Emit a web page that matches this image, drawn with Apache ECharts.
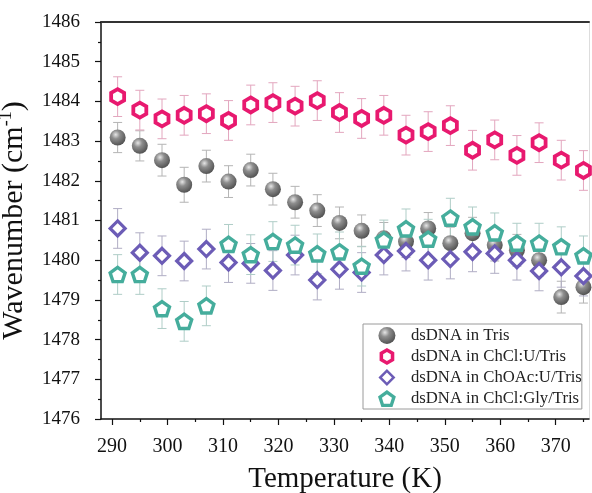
<!DOCTYPE html>
<html>
<head>
<meta charset="utf-8">
<script src="https://cdn.jsdelivr.net/npm/echarts@6/dist/echarts.min.js"></script>
<style>html,body{margin:0;padding:0;background:#fff}#c{width:592px;height:493px}</style>
</head>
<body>
<div id="c"></div>
<script>
const temps = [291,295,299,303,307,311,315,319,323,327,331,335,339,343,347,351,355,359,363,367,371,375];
const xMajorTicks = [290,300,310,320,330,340,350,360,370];
const xMinorTicks = [295,305,315,325,335,345,355,365,375];
const trisVals = [1483.09,1482.88,1482.52,1481.90,1482.37,1481.98,1482.27,1481.79,1481.46,1481.25,1480.94,1480.74,1480.55,1480.47,1480.80,1480.43,1480.68,1480.38,1480.25,1480.00,1479.07,1479.32];
const trisErr = [0.38,0.38,0.40,0.44,0.40,0.40,0.40,0.40,0.40,0.40,0.40,0.40,0.40,0.40,0.40,0.40,0.40,0.40,0.40,0.40,0.40,0.40];
const chclUVals = [1484.12,1483.78,1483.56,1483.65,1483.69,1483.52,1483.91,1483.97,1483.88,1484.02,1483.72,1483.57,1483.65,1483.15,1483.24,1483.39,1482.77,1483.03,1482.64,1482.96,1482.52,1482.26];
const chclUErr = [0.5,0.5,0.5,0.5,0.5,0.5,0.5,0.5,0.5,0.5,0.5,0.5,0.5,0.5,0.5,0.5,0.5,0.5,0.5,0.5,0.5,0.5];
const choacVals = [1480.80,1480.19,1480.11,1479.98,1480.28,1479.94,1479.92,1479.74,1480.13,1479.50,1479.77,1479.69,1480.13,1480.23,1480.00,1480.03,1480.21,1480.17,1480.00,1479.73,1479.82,1479.60];
const choacErr = [0.5,0.5,0.5,0.5,0.5,0.5,0.5,0.5,0.5,0.5,0.5,0.5,0.5,0.5,0.5,0.5,0.5,0.5,0.5,0.5,0.5,0.5];
const glyVals = [1479.64,1479.64,1478.78,1478.46,1478.85,1480.40,1480.14,1480.47,1480.38,1480.16,1480.21,1479.85,1480.51,1480.79,1480.53,1481.06,1480.84,1480.69,1480.43,1480.43,1480.34,1480.11];
const glyErr = [0.5,0.5,0.5,0.5,0.5,0.5,0.5,0.5,0.5,0.5,0.5,0.5,0.5,0.5,0.5,0.5,0.5,0.5,0.5,0.5,0.5,0.5];
const seriesNames = ['dsDNA in Tris','dsDNA in ChCl:U/Tris','dsDNA in ChOAc:U/Tris','dsDNA in ChCl:Gly/Tris'];

const FONT = 'Liberation Serif';
const PINK = '#e8196f', PURPLE = '#6c5cb6', TEAL = '#45ad9c';
const HEX = 'path://M0,-1L0.866,-0.5L0.866,0.5L0,1L-0.866,0.5L-0.866,-0.5Z';
const PENT = 'path://M0,-1L0.951,-0.309L0.588,0.809L-0.588,0.809L-0.951,-0.309Z';
const DIAM = 'path://M0,-1L1,0L0,1L-1,0Z';
const HEX_RING = 'path://M0,-1L0.866,-0.5L0.866,0.5L0,1L-0.866,0.5L-0.866,-0.5ZM0,-0.52L-0.45,-0.26L-0.45,0.26L0,0.52L0.45,0.26L0.45,-0.26Z';
const DIAM_RING = 'path://M0,-1L1,0L0,1L-1,0ZM0,-0.58L-0.58,0L0,0.58L0.58,0Z';
const PENT_RING = 'path://M0,-1L0.951,-0.309L0.588,0.809L-0.588,0.809L-0.951,-0.309ZM0,-0.56L-0.533,-0.173L-0.329,0.453L0.329,0.453L0.533,-0.173Z';

function pts(vals){ return temps.map((t,i)=>[t, vals[i]]); }
function errData(vals, errs){ return temps.map((t,i)=>[t, vals[i], errs[i]]); }
function errSeries(vals, errs, color, z){
  return {
    type:'custom', z:z, silent:true, data: errData(vals, errs),
    encode:{x:0, y:[1]},
    renderItem: function(params, api){
      const x = api.value(0), y = api.value(1), e = api.value(2);
      const top = api.coord([x, y + e]);
      const bot = api.coord([x, y - e]);
      const w = 4.5;
      const st = {stroke: color, lineWidth: 1};
      return {type:'group', children:[
        {type:'line', shape:{x1:top[0], y1:top[1], x2:bot[0], y2:bot[1]}, style:st},
        {type:'line', shape:{x1:top[0]-w, y1:top[1], x2:top[0]+w, y2:top[1]}, style:st},
        {type:'line', shape:{x1:bot[0]-w, y1:bot[1], x2:bot[0]+w, y2:bot[1]}, style:st}
      ]};
    }
  };
}

const chart = echarts.init(document.getElementById('c'), null, {renderer:'canvas'});
const sphere = new echarts.graphic.RadialGradient(0.38, 0.32, 0.75, [
  {offset:0, color:'#e6e6e6'}, {offset:0.35, color:'#8e8e8e'}, {offset:1, color:'#4a4a4a'}
]);
const axisLineStyle = {color:'#111', width:1.5};
chart.setOption({
  animation:false,
  backgroundColor:'#fff',
  textStyle:{fontFamily:FONT},
  grid:{left:101, right:3, top:22, bottom:74, outerBoundsMode:'none'},
  legend:{
    orient:'vertical', left:363, top:324,
    data: [
      {name:seriesNames[0]},
      {name:seriesNames[1], icon:HEX_RING, itemStyle:{color:PINK, borderWidth:0}},
      {name:seriesNames[2], icon:DIAM_RING, itemStyle:{color:PURPLE, borderWidth:0}},
      {name:seriesNames[3], icon:PENT_RING, itemStyle:{color:TEAL, borderWidth:0}}
    ],
    backgroundColor:'#fff', borderColor:'#9a9a9a', borderWidth:1,
    padding:[3,0,2,15], itemGap:4, itemWidth:38, itemHeight:17,
    textStyle:{fontFamily:FONT, fontSize:16.7, color:'#222'}
  },
  xAxis:[{
    type:'value', min:288, max:376, position:'bottom',
    name:'Temperature (K)', nameLocation:'middle', nameGap:46,
    nameTextStyle:{fontFamily:FONT, fontSize:29, color:'#111'},
    axisLine:{show:true, onZero:false, lineStyle:axisLineStyle},
    axisTick:{show:true, length:6, lineStyle:{color:'#111', width:1.2}, customValues:xMajorTicks},
    axisLabel:{fontFamily:FONT, fontSize:20, color:'#111', margin:18, customValues:xMajorTicks},
    splitLine:{show:false}
  },{
    type:'value', min:288, max:376, position:'bottom',
    axisLine:{show:false},
    axisTick:{show:true, length:3, lineStyle:{color:'#111', width:1.2}, customValues:xMinorTicks},
    axisLabel:{show:false},
    splitLine:{show:false}
  },{
    type:'value', min:288, max:376, position:'top',
    axisLine:{show:true, onZero:false, lineStyle:{color:'#333', width:2}},
    axisTick:{show:false}, axisLabel:{show:false}, splitLine:{show:false}
  }],
  yAxis:[{
    type:'value', min:1476, max:1486, interval:1, position:'left',
    name:'Wavenumber (cm{s|-1})', nameLocation:'middle', nameGap:62, nameRotate:90,
    nameTextStyle:{fontFamily:FONT, fontSize:30, color:'#111', lineHeight:34,
      rich:{s:{fontFamily:FONT, fontSize:18, verticalAlign:'top', lineHeight:34, padding:[0,0,14,0]}}},
    axisLine:{show:true, onZero:false, lineStyle:axisLineStyle},
    axisTick:{show:true, length:6, lineStyle:{color:'#111', width:1.2}},
    minorTick:{show:true, splitNumber:2, length:3, lineStyle:{color:'#111', width:1.2}},
    axisLabel:{fontFamily:FONT, fontSize:19, color:'#111', margin:21, formatter:function(v){return String(v);}},
    splitLine:{show:false}
  },{
    type:'value', min:1476, max:1486, interval:1, position:'right',
    axisLine:{show:true, onZero:false, lineStyle:{color:'#ddd', width:1}},
    axisTick:{show:false}, axisLabel:{show:false}, splitLine:{show:false}
  }],
  series:[
    errSeries(trisVals, trisErr, '#b4b4b4', 1),
    errSeries(chclUVals, chclUErr, '#e3a6be', 1),
    errSeries(choacVals, choacErr, '#b0adc4', 1),
    errSeries(glyVals, glyErr, '#afcdc7', 1),
    {name:seriesNames[0], type:'scatter', z:2, data:pts(trisVals), symbol:'circle', symbolSize:16,
      itemStyle:{color:sphere, opacity:1}},
    {name:seriesNames[1], type:'scatter', z:3, data:pts(chclUVals), symbol:HEX, symbolKeepAspect:true, symbolSize:15,
      itemStyle:{color:'#fff', borderColor:PINK, borderWidth:3.8, opacity:1}},
    {name:seriesNames[2], type:'scatter', z:4, data:pts(choacVals), symbol:DIAM, symbolKeepAspect:true, symbolSize:15,
      itemStyle:{color:'#fff', borderColor:PURPLE, borderWidth:3.2, opacity:1}},
    {name:seriesNames[3], type:'scatter', z:5, data:pts(glyVals), symbol:PENT, symbolKeepAspect:true, symbolSize:15,
      itemStyle:{color:'#fff', borderColor:TEAL, borderWidth:3.4, opacity:1}}
  ]
});
</script>
</body>
</html>
